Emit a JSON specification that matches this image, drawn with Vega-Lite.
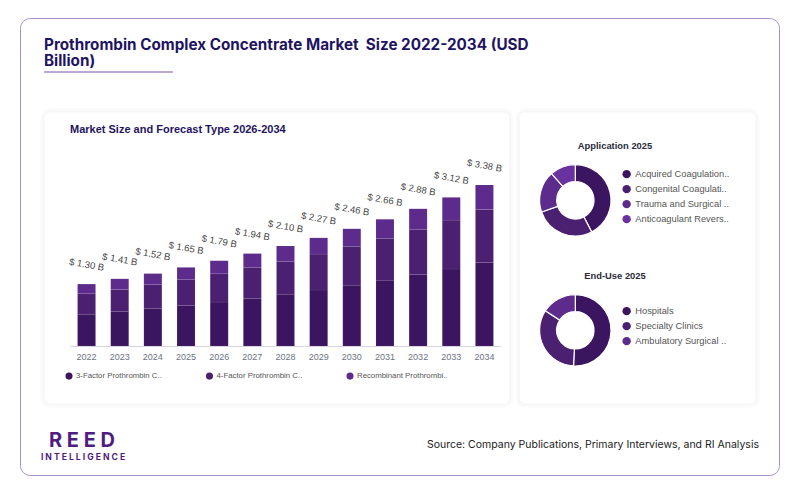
{
"$schema":"https://vega.github.io/schema/vega-lite/v6.json",
"padding":{"left":20,"top":18,"right":21,"bottom":18},
"background":"white",
"width":759,"height":457,
"view":{"stroke":"#a98cc6","strokeWidth":1,"fill":"white","cornerRadius":10},
"config":{"font":"Liberation Sans"},
"datasets":{
"segments":[
{"year":"2022","type":"3-Factor Prothrombin C..","rank":1,"value":0.667},{"year":"2022","type":"4-Factor Prothrombin C..","rank":2,"value":0.431},{"year":"2022","type":"Recombinant Prothrombi..","rank":3,"value":0.202},
{"year":"2023","type":"3-Factor Prothrombin C..","rank":1,"value":0.727},{"year":"2023","type":"4-Factor Prothrombin C..","rank":2,"value":0.46},{"year":"2023","type":"Recombinant Prothrombi..","rank":3,"value":0.223},
{"year":"2024","type":"3-Factor Prothrombin C..","rank":1,"value":0.79},{"year":"2024","type":"4-Factor Prothrombin C..","rank":2,"value":0.5},{"year":"2024","type":"Recombinant Prothrombi..","rank":3,"value":0.23},
{"year":"2025","type":"3-Factor Prothrombin C..","rank":1,"value":0.853},{"year":"2025","type":"4-Factor Prothrombin C..","rank":2,"value":0.545},{"year":"2025","type":"Recombinant Prothrombi..","rank":3,"value":0.252},
{"year":"2026","type":"3-Factor Prothrombin C..","rank":1,"value":0.923},{"year":"2026","type":"4-Factor Prothrombin C..","rank":2,"value":0.594},{"year":"2026","type":"Recombinant Prothrombi..","rank":3,"value":0.273},
{"year":"2027","type":"3-Factor Prothrombin C..","rank":1,"value":1.0},{"year":"2027","type":"4-Factor Prothrombin C..","rank":2,"value":0.65},{"year":"2027","type":"Recombinant Prothrombi..","rank":3,"value":0.29},
{"year":"2028","type":"3-Factor Prothrombin C..","rank":1,"value":1.084},{"year":"2028","type":"4-Factor Prothrombin C..","rank":2,"value":0.692},{"year":"2028","type":"Recombinant Prothrombi..","rank":3,"value":0.324},
{"year":"2029","type":"3-Factor Prothrombin C..","rank":1,"value":1.175},{"year":"2029","type":"4-Factor Prothrombin C..","rank":2,"value":0.755},{"year":"2029","type":"Recombinant Prothrombi..","rank":3,"value":0.34},
{"year":"2030","type":"3-Factor Prothrombin C..","rank":1,"value":1.273},{"year":"2030","type":"4-Factor Prothrombin C..","rank":2,"value":0.818},{"year":"2030","type":"Recombinant Prothrombi..","rank":3,"value":0.369},
{"year":"2031","type":"3-Factor Prothrombin C..","rank":1,"value":1.378},{"year":"2031","type":"4-Factor Prothrombin C..","rank":2,"value":0.881},{"year":"2031","type":"Recombinant Prothrombi..","rank":3,"value":0.401},
{"year":"2032","type":"3-Factor Prothrombin C..","rank":1,"value":1.497},{"year":"2032","type":"4-Factor Prothrombin C..","rank":2,"value":0.951},{"year":"2032","type":"Recombinant Prothrombi..","rank":3,"value":0.432},
{"year":"2033","type":"3-Factor Prothrombin C..","rank":1,"value":1.615},{"year":"2033","type":"4-Factor Prothrombin C..","rank":2,"value":1.028},{"year":"2033","type":"Recombinant Prothrombi..","rank":3,"value":0.477},
{"year":"2034","type":"3-Factor Prothrombin C..","rank":1,"value":1.755},{"year":"2034","type":"4-Factor Prothrombin C..","rank":2,"value":1.112},{"year":"2034","type":"Recombinant Prothrombi..","rank":3,"value":0.513}
],
"totals":[
{"year":"2022","total":1.30,"label":"$ 1.30 B"},{"year":"2023","total":1.41,"label":"$ 1.41 B"},{"year":"2024","total":1.52,"label":"$ 1.52 B"},{"year":"2025","total":1.65,"label":"$ 1.65 B"},{"year":"2026","total":1.79,"label":"$ 1.79 B"},{"year":"2027","total":1.94,"label":"$ 1.94 B"},{"year":"2028","total":2.10,"label":"$ 2.10 B"},{"year":"2029","total":2.27,"label":"$ 2.27 B"},{"year":"2030","total":2.46,"label":"$ 2.46 B"},{"year":"2031","total":2.66,"label":"$ 2.66 B"},{"year":"2032","total":2.88,"label":"$ 2.88 B"},{"year":"2033","total":3.12,"label":"$ 3.12 B"},{"year":"2034","total":3.38,"label":"$ 3.38 B"}
],
"application":[
{"chart":"Application 2025","segment":"Acquired Coagulation..","rank":1,"share":42.4},{"chart":"Application 2025","segment":"Congenital Coagulati..","rank":2,"share":27.3},{"chart":"Application 2025","segment":"Trauma and Surgical ..","rank":3,"share":18.7},{"chart":"Application 2025","segment":"Anticoagulant Revers..","rank":4,"share":11.6}
],
"enduse":[
{"chart":"End-Use 2025","segment":"Hospitals","rank":1,"share":50.8},{"chart":"End-Use 2025","segment":"Specialty Clinics","rank":2,"share":33.4},{"chart":"End-Use 2025","segment":"Ambulatory Surgical ..","rank":3,"share":15.8}
],
"charts":[{"chart":"Application 2025"},{"chart":"End-Use 2025"}],
"mainTitle":[{"line":"Prothrombin Complex Concentrate Market\u00a0 Size 2022-2034 (USD"},{"line":"Billion)"}],
"cardTitle":[{"role":"Market Size and Forecast Type 2026-2034"}],
"logo":[{"role":"R E E D"}],
"tag":[{"role":"I N T E L L I G E N C E"}],
"source":[{"role":"Source: Company Publications, Primary Interviews, and RI Analysis"}],
"one":[{"item":"shape"}]
},
"resolve":{"scale":{"x":"independent","y":"independent","color":"independent","theta":"independent"},"axis":{"x":"independent","y":"independent"}},
"layer":[
{"data":{"name":"mainTitle"},"mark":{"type":"text","font":"Inter","fontSize":15.25,"fontWeight":700,"color":"#1e1462","align":"left","baseline":"alphabetic"},
 "encoding":{"x":{"field":"line","type":"nominal","axis":null,"scale":{"type":"point","padding":0,"range":[24,24]}},"y":{"field":"line","type":"nominal","axis":null,"scale":{"type":"point","padding":0,"domain":["Prothrombin Complex Concentrate Market\u00a0 Size 2022-2034 (USD","Billion)"],"range":[32,48]}},"text":{"field":"line"}}},
{"data":{"name":"one"},"mark":{"type":"rect","cornerRadius":6,"fill":null,"stroke":"#000000","strokeOpacity":0.02,"strokeWidth":7},
 "encoding":{"x":{"datum":0,"type":"quantitative","axis":null,"scale":{"domain":[0,1],"range":[24,490]}},"x2":{"datum":1},"y":{"datum":0,"type":"quantitative","axis":null,"scale":{"domain":[0,1],"range":[386,94]}},"y2":{"datum":1}}},
{"data":{"name":"one"},"mark":{"type":"rect","cornerRadius":6,"fill":"white","stroke":"#000000","strokeOpacity":0.02,"strokeWidth":2},
 "encoding":{"x":{"datum":0,"type":"quantitative","axis":null,"scale":{"domain":[0,1],"range":[24,490]}},"x2":{"datum":1},"y":{"datum":0,"type":"quantitative","axis":null,"scale":{"domain":[0,1],"range":[386,94]}},"y2":{"datum":1}}},
{"data":{"name":"one"},"mark":{"type":"rect","cornerRadius":6,"fill":null,"stroke":"#000000","strokeOpacity":0.02,"strokeWidth":7},
 "encoding":{"x":{"datum":0,"type":"quantitative","axis":null,"scale":{"domain":[0,1],"range":[499,736]}},"x2":{"datum":1},"y":{"datum":0,"type":"quantitative","axis":null,"scale":{"domain":[0,1],"range":[386,94]}},"y2":{"datum":1}}},
{"data":{"name":"one"},"mark":{"type":"rect","cornerRadius":6,"fill":"white","stroke":"#000000","strokeOpacity":0.02,"strokeWidth":2},
 "encoding":{"x":{"datum":0,"type":"quantitative","axis":null,"scale":{"domain":[0,1],"range":[499,736]}},"x2":{"datum":1},"y":{"datum":0,"type":"quantitative","axis":null,"scale":{"domain":[0,1],"range":[386,94]}},"y2":{"datum":1}}},
{"data":{"name":"one"},"mark":{"type":"rule","color":"#7d52ab","strokeWidth":1.2},
 "encoding":{"x":{"datum":0,"type":"quantitative","axis":null,"scale":{"domain":[0,1],"range":[24,153]}},"x2":{"datum":1},"y":{"datum":0,"type":"quantitative","axis":null,"scale":{"domain":[0,1],"range":[54,0]}}}},
{"data":{"name":"cardTitle"},"mark":{"type":"text","fontSize":11,"fontWeight":700,"color":"#1e1462","align":"left","baseline":"middle"},
 "encoding":{"x":{"field":"role","type":"nominal","axis":null,"scale":{"type":"point","padding":0,"range":[50,50]}},"y":{"field":"role","type":"nominal","axis":null,"scale":{"type":"point","padding":0,"range":[112,112]}},"text":{"field":"role"}}},
{"data":{"name":"segments"},
 "mark":{"type":"bar","stroke":"white","strokeWidth":0.3,"strokeOpacity":0.2},
 "encoding":{
  "x":{"field":"year","type":"ordinal","title":null,"scale":{"range":[50,481],"paddingInner":0.457,"paddingOuter":0.228},"axis":{"zindex":1,"labelAngle":0,"ticks":false,"offset":-129,"labelPadding":6,"labelFontSize":9,"labelColor":"#6b7280","domainColor":"#d6d3e2","grid":false}},
  "y":{"field":"value","type":"quantitative","stack":"zero","axis":null,"scale":{"domain":[0,3.38],"range":[328,167],"nice":false}},
  "order":{"field":"rank"},
  "color":{"field":"type","type":"nominal","scale":{"domain":["3-Factor Prothrombin C..","4-Factor Prothrombin C..","Recombinant Prothrombi.."],"range":["#3c1560","#4b2070","#5c2b8c"]},
   "legend":{"orient":"none","legendX":45,"legendY":354,"columns":3,"title":null,"symbolType":"circle","symbolSize":50,"symbolStrokeWidth":0,"labelFontSize":7.8,"labelColor":"#555555","labelOffset":3,"columnPadding":43.5,"direction":"horizontal"}}
 }},
{"data":{"name":"totals"},
 "mark":{"type":"text","angle":10,"fontSize":9.5,"color":"#444444","dy":-19,"dx":-3.3,"baseline":"middle"},
 "encoding":{
  "x":{"field":"year","type":"ordinal","axis":null,"scale":{"range":[50,481],"paddingInner":0.457,"paddingOuter":0.228}},
  "y":{"field":"total","type":"quantitative","axis":null,"scale":{"domain":[0,3.38],"range":[328,167],"nice":false}},
  "text":{"field":"label"}}},
{"data":{"name":"charts"},"mark":{"type":"text","fontSize":9.4,"fontWeight":700,"color":"#2b2b3a","baseline":"middle"},
 "encoding":{
  "x":{"field":"chart","type":"nominal","axis":null,"scale":{"type":"point","padding":0,"domain":["Application 2025","End-Use 2025"],"range":[595,595]}},
  "y":{"field":"chart","type":"nominal","axis":null,"scale":{"type":"point","padding":0,"domain":["Application 2025","End-Use 2025"],"range":[127.7,257.7]}},
  "text":{"field":"chart"}}},
{"data":{"name":"application"},
 "mark":{"type":"arc","innerRadius":18.7,"outerRadius":35.7,"stroke":"white","strokeWidth":1.2},
 "encoding":{
  "x":{"field":"chart","type":"nominal","axis":null,"scale":{"type":"point","padding":0,"domain":["Application 2025","End-Use 2025"],"range":[555.3,555.3]}},
  "y":{"field":"chart","type":"nominal","axis":null,"scale":{"type":"point","padding":0,"domain":["Application 2025","End-Use 2025"],"range":[182.3,312.3]}},
  "theta":{"field":"share","type":"quantitative","stack":true,"scale":{"domain":[0,100]}},
  "order":{"field":"rank"},
  "color":{"field":"segment","type":"nominal","scale":{"domain":["Acquired Coagulation..","Congenital Coagulati..","Trauma and Surgical ..","Anticoagulant Revers.."],"range":["#3c1560","#4b2070","#5c2b8c","#6a32a0"]},
   "legend":{"orient":"none","legendX":602,"legendY":151.5,"title":null,"symbolType":"circle","symbolSize":70,"symbolStrokeWidth":0,"labelFontSize":9.3,"labelColor":"#555555","labelOffset":4,"rowPadding":5}}
 }},
{"data":{"name":"enduse"},
 "mark":{"type":"arc","innerRadius":18.7,"outerRadius":35.7,"stroke":"white","strokeWidth":1.2},
 "encoding":{
  "x":{"field":"chart","type":"nominal","axis":null,"scale":{"type":"point","padding":0,"domain":["Application 2025","End-Use 2025"],"range":[555.3,555.3]}},
  "y":{"field":"chart","type":"nominal","axis":null,"scale":{"type":"point","padding":0,"domain":["Application 2025","End-Use 2025"],"range":[182.3,312.3]}},
  "theta":{"field":"share","type":"quantitative","stack":true,"scale":{"domain":[0,100]}},
  "order":{"field":"rank"},
  "color":{"field":"segment","type":"nominal","scale":{"domain":["Hospitals","Specialty Clinics","Ambulatory Surgical .."],"range":["#3c1560","#4b2070","#5c2b8c"]},
   "legend":{"orient":"none","legendX":602,"legendY":288.5,"title":null,"symbolType":"circle","symbolSize":70,"symbolStrokeWidth":0,"labelFontSize":9.3,"labelColor":"#555555","labelOffset":4,"rowPadding":5}}
 }},
{"data":{"name":"logo"},"mark":{"type":"text","font":"Inter","fontWeight":700,"fontSize":20,"color":"#4f1c82","baseline":"middle"},
 "encoding":{"x":{"field":"role","type":"nominal","axis":null,"scale":{"type":"point","padding":0,"range":[62,62]}},"y":{"field":"role","type":"nominal","axis":null,"scale":{"type":"point","padding":0,"range":[422.5,422.5]}},"text":{"field":"role"}}},
{"data":{"name":"tag"},"mark":{"type":"text","font":"Inter","fontWeight":700,"fontSize":8.6,"color":"#4f1c82","baseline":"middle"},
 "encoding":{"x":{"field":"role","type":"nominal","axis":null,"scale":{"type":"point","padding":0,"range":[63,63]}},"y":{"field":"role","type":"nominal","axis":null,"scale":{"type":"point","padding":0,"range":[438.7,438.7]}},"text":{"field":"role"}}},
{"data":{"name":"source"},"mark":{"type":"text","font":"Inter","fontSize":10.5,"color":"#222222","align":"right","baseline":"middle"},
 "encoding":{"x":{"field":"role","type":"nominal","axis":null,"scale":{"type":"point","padding":0,"range":[739,739]}},"y":{"field":"role","type":"nominal","axis":null,"scale":{"type":"point","padding":0,"range":[427,427]}},"text":{"field":"role"}}}
]
}
